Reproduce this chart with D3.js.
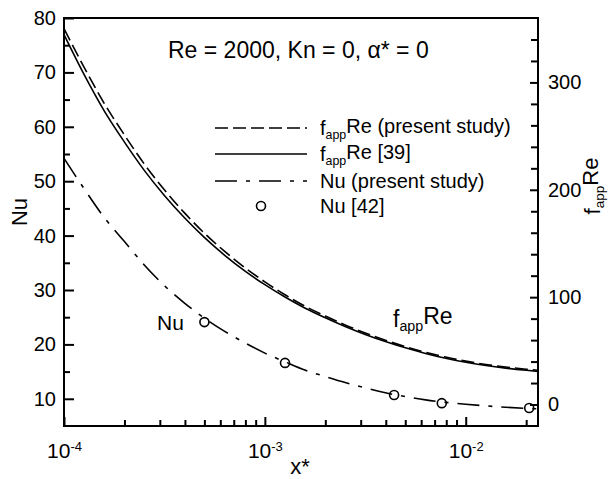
<!DOCTYPE html>
<html>
<head>
<meta charset="utf-8">
<script src="https://cdn.jsdelivr.net/npm/d3@7"></script>
<style>
  body { margin: 0; background: #fff; }
  svg text { font-family: "Liberation Sans", Arial, sans-serif; fill: #000; }
</style>
</head>
<body>
<div id="chart"></div>
<script>
// entrance-region friction factor and Nusselt number vs x*

// x* values shared by the three curves
var xs = [1.00e-4, 1.26e-4, 1.58e-4, 2.00e-4, 2.51e-4, 3.16e-4, 3.98e-4, 5.01e-4,
          6.31e-4, 7.94e-4, 1.00e-3, 1.26e-3, 1.58e-3, 2.00e-3, 2.51e-3, 3.16e-3,
          3.98e-3, 5.01e-3, 6.31e-3, 7.94e-3, 1.00e-2, 1.26e-2, 1.58e-2, 2.00e-2, 2.29e-2];

// f_app Re, present study (right axis)
var fReStudy = [350, 314, 281, 251, 224, 200, 178.5, 159.4, 142.6, 127.6, 114.2, 102.2,
                91.7, 82.4, 74.1, 66.6, 59.9, 53.9, 48.7, 44.2, 40.4, 37.3, 34.9, 32.9, 31.9];
// f_app Re, ref [39] (right axis)
var fReRef = [344.5, 307.2, 274.0, 244.4, 218.1, 194.7, 173.9, 155.4, 139.0, 124.5, 111.6, 100.1,
              89.9, 80.8, 72.7, 65.3, 58.7, 52.8, 47.6, 43.1, 39.4, 36.3, 33.9, 31.9, 30.9];
// Nu, present study (left axis)
var nuStudy = [54.2, 48.6, 43.4, 38.9, 34.6, 30.8, 27.6, 24.8, 22.4, 20.3, 18.4, 16.8,
               15.3, 14.1, 13.0, 12.0, 11.1, 10.4, 9.8, 9.35, 9.0, 8.7, 8.45, 8.25, 8.15];

// Nu, ref [42] (symbols)
var nuRefX = [5.0e-4, 1.26e-3, 4.4e-3, 7.6e-3, 2.07e-2];
var nuRefY = [24.1, 16.6, 10.7, 9.2, 8.3];

var leftTicks = [10, 20, 30, 40, 50, 60, 70, 80],
    leftMinor = [15, 25, 35, 45, 55, 65, 75],
    rightTicks = [0, 100, 200, 300],
    rightMinor = [20, 40, 60, 80, 120, 140, 160, 180, 220, 240, 260, 280, 320, 340],
    xMajor = [1e-4, 1e-3, 1e-2],
    xMinor = [2e-4, 3e-4, 4e-4, 5e-4, 6e-4, 7e-4, 8e-4, 9e-4,
              2e-3, 3e-3, 4e-3, 5e-3, 6e-3, 7e-3, 8e-3, 9e-3, 2e-2];

var W = 614, H = 479,
    box = {left: 64, right: 538, top: 18, bottom: 426};

var svg = d3.select("#chart").append("svg")
  .attr("width", W).attr("height", H);

var x = d3.scaleLog().domain([1e-4, 0.0229]).range([box.left, box.right]);
var yL = d3.scaleLinear().domain([5, 80]).range([box.bottom, box.top]);
var yR = d3.scaleLinear().domain([-20, 360]).range([box.bottom, box.top]);

function styleAxis(g){
  g.selectAll("path").remove();
  g.selectAll("line").attr("stroke", "#000").attr("stroke-width", 2);
}

// left axis
svg.append("g").attr("transform", "translate(" + box.left + ",0)")
  .call(d3.axisLeft(yL).tickValues(leftTicks).tickSize(-10).tickPadding(8))
  .call(styleAxis)
  .selectAll("text").attr("font-size", 20).attr("font-family", "Liberation Sans, Arial, sans-serif");
svg.append("g").attr("transform", "translate(" + box.left + ",0)")
  .call(d3.axisLeft(yL).tickValues(leftMinor).tickSize(-6).tickFormat(""))
  .call(styleAxis);

// right axis
svg.append("g").attr("transform", "translate(" + box.right + ",0)")
  .call(d3.axisRight(yR).tickValues(rightTicks).tickSize(-8).tickPadding(10))
  .call(styleAxis)
  .selectAll("text").attr("font-size", 20).attr("font-family", "Liberation Sans, Arial, sans-serif");
svg.append("g").attr("transform", "translate(" + box.right + ",0)")
  .call(d3.axisRight(yR).tickValues(rightMinor).tickSize(-7).tickFormat(""))
  .call(styleAxis);

// bottom axis
var gx = svg.append("g").attr("transform", "translate(0," + box.bottom + ")")
  .call(d3.axisBottom(x).tickValues(xMajor).tickSize(-9).tickPadding(10))
  .call(styleAxis);
gx.selectAll("text").each(function(d){
  var t = d3.select(this).text(null)
    .attr("font-size", 21).attr("font-family", "Liberation Sans, Arial, sans-serif")
    .attr("dy", "1.05em");
  t.append("tspan").text("10");
  t.append("tspan").attr("dy", "-0.55em").attr("font-size", 13)
    .text(Math.round(Math.log10(d)));
});
svg.append("g").attr("transform", "translate(0," + box.bottom + ")")
  .call(d3.axisBottom(x).tickValues(xMinor).tickSize(-6).tickFormat(""))
  .call(styleAxis);

// frame
svg.append("rect")
  .attr("x", box.left).attr("y", box.top)
  .attr("width", box.right - box.left).attr("height", box.bottom - box.top)
  .attr("fill", "none").attr("stroke", "#000").attr("stroke-width", 2);

// curves
var rows = xs.map(function(v, i){
  return {x: v, fs: fReStudy[i], fr: fReRef[i], nu: nuStudy[i]};
});
var lineFs = d3.line().x(d => x(d.x)).y(d => yR(d.fs)).curve(d3.curveMonotoneX);
var lineFr = d3.line().x(d => x(d.x)).y(d => yR(d.fr)).curve(d3.curveMonotoneX);
var lineNu = d3.line().x(d => x(d.x)).y(d => yL(d.nu)).curve(d3.curveMonotoneX);

svg.append("path").datum(rows).attr("d", lineFr)
  .attr("fill", "none").attr("stroke", "#000").attr("stroke-width", 1.6);
svg.append("path").datum(rows).attr("d", lineFs)
  .attr("fill", "none").attr("stroke", "#000").attr("stroke-width", 1.6)
  .attr("stroke-dasharray", "13,5");
svg.append("path").datum(rows).attr("d", lineNu)
  .attr("fill", "none").attr("stroke", "#000").attr("stroke-width", 1.6)
  .attr("stroke-dasharray", "22,9,4,9");

svg.append("g").selectAll("circle")
  .data(nuRefX)
  .join("circle")
  .attr("cx", d => x(d))
  .attr("cy", (d, i) => yL(nuRefY[i]))
  .attr("r", 4.5)
  .attr("fill", "none").attr("stroke", "#000").attr("stroke-width", 1.6);

// title
svg.append("text").attr("x", 168).attr("y", 58).attr("font-size", 23)
  .text("Re = 2000, Kn = 0, \u03b1* = 0");

// legend
var legY = [128, 154, 181, 206], legX0 = 215, legX1 = 307, legT = 320;
svg.append("line").attr("x1", legX0).attr("x2", legX1).attr("y1", legY[0]).attr("y2", legY[0])
  .attr("stroke", "#000").attr("stroke-width", 1.6).attr("stroke-dasharray", "13,5");
svg.append("line").attr("x1", legX0).attr("x2", legX1).attr("y1", legY[1]).attr("y2", legY[1])
  .attr("stroke", "#000").attr("stroke-width", 1.6);
svg.append("line").attr("x1", legX0).attr("x2", legX1).attr("y1", legY[2]).attr("y2", legY[2])
  .attr("stroke", "#000").attr("stroke-width", 1.6).attr("stroke-dasharray", "22,9,4,9");
svg.append("circle").attr("cx", (legX0 + legX1) / 2).attr("cy", legY[3]).attr("r", 4.5)
  .attr("fill", "none").attr("stroke", "#000").attr("stroke-width", 1.6);

function fappRe(sel, size){
  sel.attr("font-size", size);
  sel.append("tspan").text("f");
  sel.append("tspan").attr("font-size", size * 0.62).attr("dy", "0.3em").text("app");
  sel.append("tspan").attr("dy", "-0.3em").text("Re");
  return sel;
}

var t1 = svg.append("text").attr("x", legT).attr("y", legY[0] + 7);
fappRe(t1, 20).append("tspan").text(" (present study)");
var t2 = svg.append("text").attr("x", legT).attr("y", legY[1] + 7);
fappRe(t2, 20).append("tspan").text(" [39]");
svg.append("text").attr("x", legT).attr("y", legY[2] + 7).attr("font-size", 20)
  .text("Nu (present study)");
svg.append("text").attr("x", legT).attr("y", legY[3] + 7).attr("font-size", 20)
  .text("Nu [42]");

// curve labels
svg.append("text").attr("x", 157).attr("y", 330).attr("font-size", 21).text("Nu");
fappRe(svg.append("text").attr("x", 393).attr("y", 327), 23);

// axis titles
svg.append("text").attr("transform", "translate(27,212) rotate(-90)")
  .attr("text-anchor", "middle").attr("font-size", 22).text("Nu");
fappRe(svg.append("text").attr("transform", "translate(600,186) rotate(-90)")
  .attr("text-anchor", "middle"), 22);
svg.append("text").attr("x", 300).attr("y", 474).attr("text-anchor", "middle")
  .attr("font-size", 22).text("x*");
</script>
</body>
</html>
